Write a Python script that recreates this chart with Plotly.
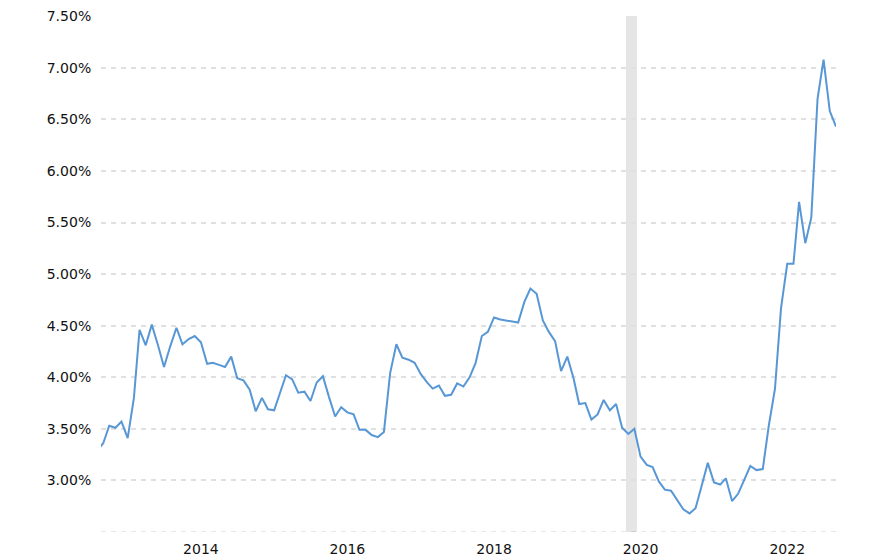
import pandas as pd
import plotly.graph_objects as go

# Monthly values (%), Aug 2012 .. Sep 2022
start_month = "2012-08-01"
rate_2012 = [3.29, 3.36, 3.53, 3.51, 3.57]  # Aug-Dec
rate_2013 = [3.41, 3.80, 4.46, 4.31, 4.51, 4.31, 4.10, 4.30, 4.48, 4.32, 4.37, 4.40]
rate_2014 = [4.34, 4.13, 4.14, 4.12, 4.10, 4.20, 3.99, 3.97, 3.88, 3.67, 3.80, 3.69]
rate_2015 = [3.68, 3.86, 4.02, 3.98, 3.85, 3.86, 3.77, 3.95, 4.01, 3.81, 3.62, 3.71]
rate_2016 = [3.66, 3.64, 3.49, 3.49, 3.44, 3.42, 3.47, 4.04, 4.32, 4.19, 4.17, 4.14]
rate_2017 = [4.03, 3.95, 3.89, 3.92, 3.82, 3.83, 3.94, 3.91, 4.00, 4.14, 4.40, 4.44]
rate_2018 = [4.58, 4.56, 4.55, 4.54, 4.53, 4.73, 4.86, 4.81, 4.55, 4.44, 4.35, 4.06]
rate_2019 = [4.20, 3.99, 3.74, 3.75, 3.59, 3.64, 3.78, 3.68, 3.74, 3.51, 3.45, 3.50]
rate_2020 = [3.23, 3.15, 3.13, 2.99, 2.91, 2.90, 2.81, 2.72, 2.68, 2.73, 2.95, 3.17]
rate_2021 = [2.98, 2.96, 3.02, 2.80, 2.87, 3.01, 3.14, 3.10, 3.11, 3.53, 3.89, 4.67]
rate_2022 = [5.10, 5.10, 5.70, 5.30, 5.55, 6.70, 7.08, 6.58, 6.43]  # Jan-Sep

rates = (rate_2012 + rate_2013 + rate_2014 + rate_2015 + rate_2016 + rate_2017
         + rate_2018 + rate_2019 + rate_2020 + rate_2021 + rate_2022)
dates = pd.date_range(start_month, periods=len(rates), freq="MS")

y_tick_vals = [3.0, 3.5, 4.0, 4.5, 5.0, 5.5, 6.0, 6.5, 7.0, 7.5]
y_tick_text = ["3.00%", "3.50%", "4.00%", "4.50%", "5.00%", "5.50%",
               "6.00%", "6.50%", "7.00%", "7.50%"]
x_tick_vals = ["2014-01-01", "2016-01-01", "2018-01-01", "2020-01-01", "2022-01-01"]
x_tick_text = ["2014", "2016", "2018", "2020", "2022"]
shade_start, shade_end = "2019-10-20", "2019-12-14"
x_range = ["2012-08-21", "2022-09-01"]
y_range = [2.5, 7.502]
grid_color = "#e0e0e0"

fig = go.Figure()
fig.add_trace(go.Scatter(
    x=dates, y=rates, mode="lines",
    line=dict(color="#5797d6", width=2),
    hoverinfo="skip", showlegend=False,
))
# bottom (unlabelled) grid line at the axis floor
fig.add_shape(type="line", xref="paper", yref="y", x0=0, x1=1, y0=2.5, y1=2.5,
              line=dict(color=grid_color, width=1.5, dash="5px,5px"), layer="below")
fig.add_shape(type="rect", xref="x", yref="paper",
              x0=shade_start, x1=shade_end, y0=0, y1=1,
              fillcolor="rgba(0,0,0,0.10)", line_width=0, layer="between")

font = dict(family="DejaVu Sans, Verdana, sans-serif", size=14, color="#111111")
# the page body adds an 8px margin, so the figure is sized/offset to compensate
fig.update_layout(
    width=880, height=552,
    margin=dict(l=93, r=52, t=8, b=28, pad=0, autoexpand=False),
    plot_bgcolor="white", paper_bgcolor="white",
    font=font,
    xaxis=dict(range=x_range, type="date", tickvals=x_tick_vals, ticktext=x_tick_text,
               showgrid=False, zeroline=False, showline=False, automargin=False,
               ticks="outside", ticklen=4, tickcolor="rgba(0,0,0,0)", tickfont=font),
    yaxis=dict(range=y_range, tickvals=y_tick_vals, ticktext=y_tick_text,
               showgrid=True, gridcolor=grid_color, gridwidth=1.5, griddash="5px,5px",
               zeroline=False, showline=False, automargin=False,
               ticks="outside", ticklen=6, tickcolor="rgba(0,0,0,0)", tickfont=font),
)
fig.write_html("out.html", config={"displayModeBar": False})
